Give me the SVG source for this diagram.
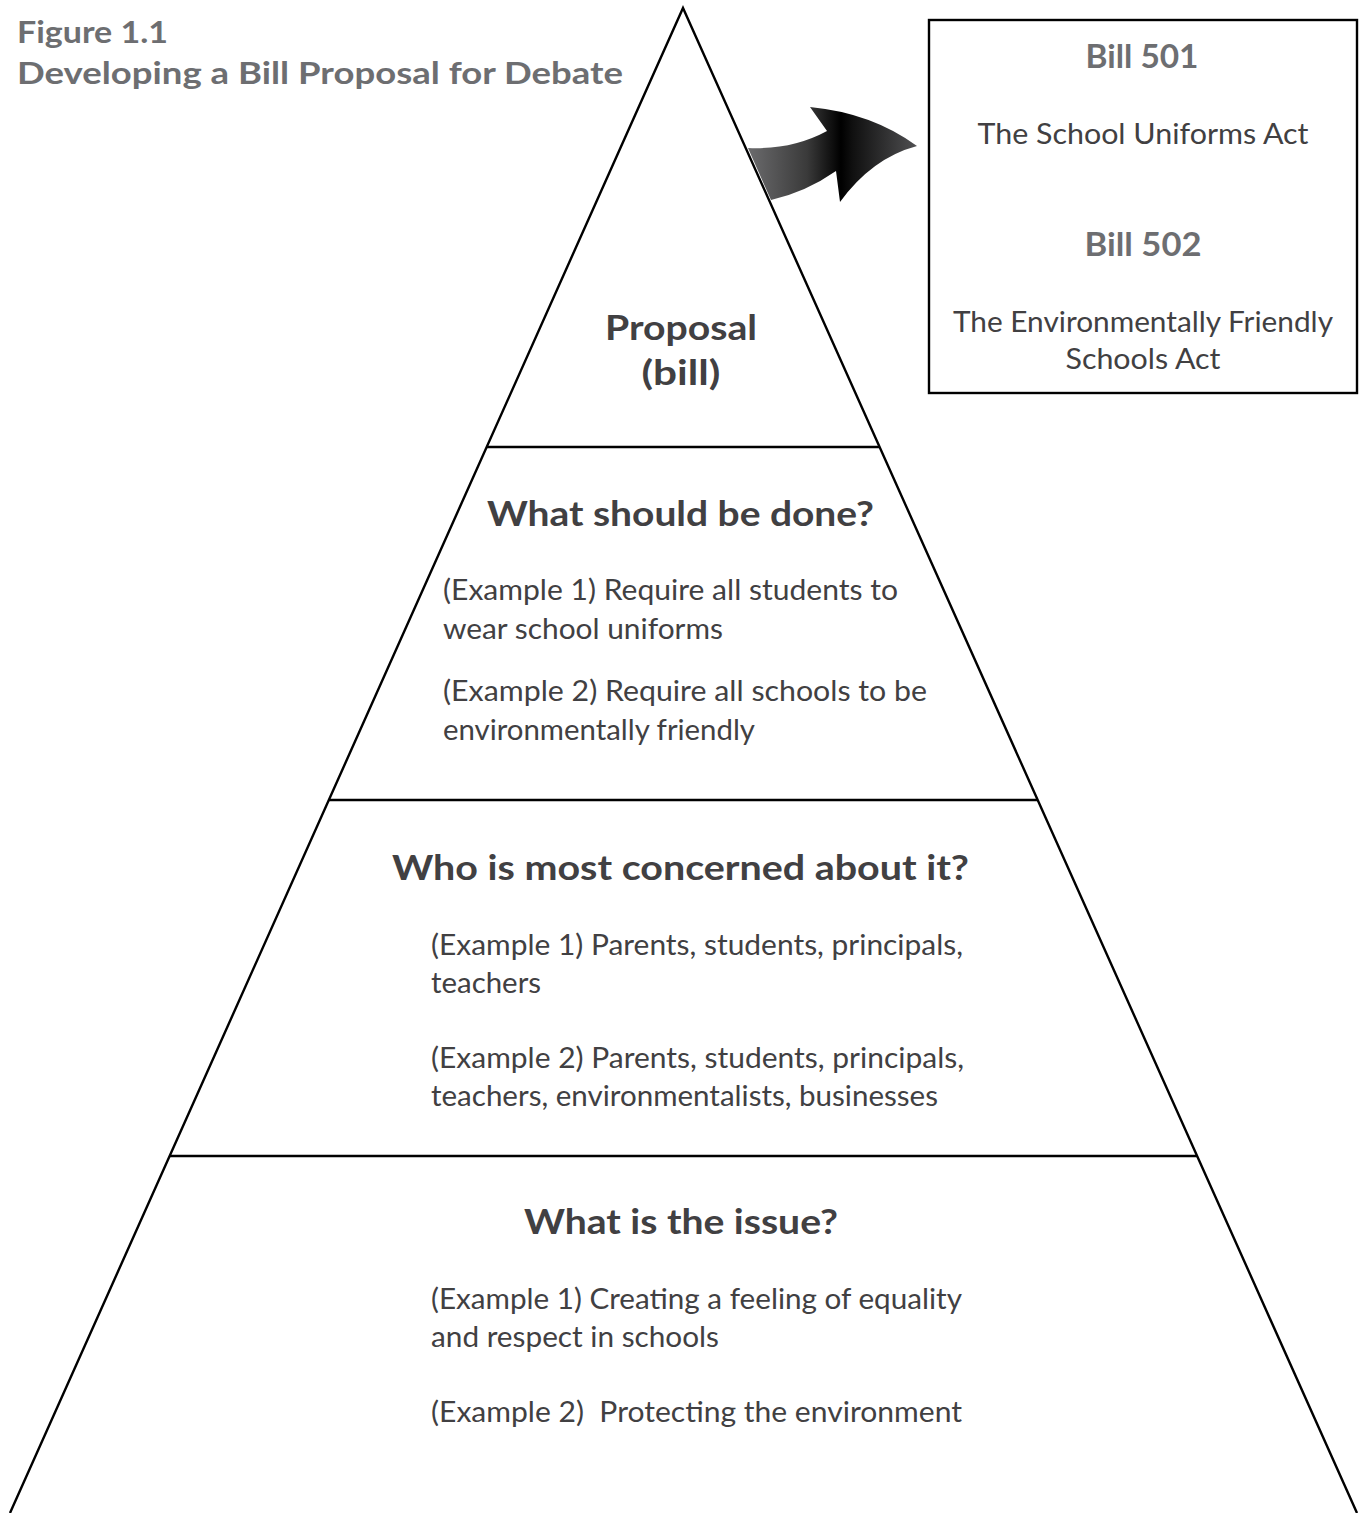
<svg xmlns="http://www.w3.org/2000/svg" width="1365" height="1513" viewBox="0 0 1365 1513">
<defs>
<linearGradient id="arrowGrad" gradientUnits="userSpaceOnUse" x1="748" y1="0" x2="917" y2="0">
<stop offset="0" stop-color="#6b6b6d"/>
<stop offset="0.35" stop-color="#3a3a3a"/>
<stop offset="0.55" stop-color="#000000"/>
<stop offset="0.62" stop-color="#101010"/>
<stop offset="1" stop-color="#505052"/>
</linearGradient>
<style>
.ln{fill:none;stroke:#000;stroke-width:2.4;stroke-linejoin:miter}
.title{font-family:Lato,"Liberation Sans",sans-serif;font-weight:bold;font-size:31px;fill:#6d6e71}
.hd{font-family:Lato,"Liberation Sans",sans-serif;font-weight:bold;font-size:35px;fill:#414042}
.bill{font-family:Lato,"Liberation Sans",sans-serif;font-weight:bold;font-size:32px;fill:#6d6e71;text-anchor:middle}
.tx{font-family:Lato,"Liberation Sans",sans-serif;font-size:28px;fill:#414042}
.txc{font-family:Lato,"Liberation Sans",sans-serif;font-size:28px;fill:#414042;text-anchor:middle}
</style>
</defs>
<rect width="1365" height="1513" fill="#fff"/>

<g id="title">
<text class="title" x="17" y="43" textLength="151" lengthAdjust="spacingAndGlyphs">Figure 1.1</text>
<text class="title" x="17" y="84" textLength="606" lengthAdjust="spacingAndGlyphs">Developing a Bill Proposal for Debate</text>
</g>

<g id="pyramid">
<path class="ln" d="M10,1513 L683,8 L1357,1513"/>
<line class="ln" x1="487" y1="447" x2="879" y2="447"/>
<line class="ln" x1="329" y1="800" x2="1038" y2="800"/>
<line class="ln" x1="170" y1="1156" x2="1197" y2="1156"/>
</g>

<g id="level-proposal">
<text class="hd" x="681" y="340" text-anchor="middle" textLength="152" lengthAdjust="spacingAndGlyphs">Proposal</text>
<text class="hd" x="681" y="385" text-anchor="middle" textLength="79" lengthAdjust="spacingAndGlyphs">(bill)</text>
</g>

<g id="level-what-done">
<text class="hd" x="487" y="526" textLength="387" lengthAdjust="spacingAndGlyphs">What should be done?</text>
<text class="tx" x="443" y="600" textLength="455" lengthAdjust="spacingAndGlyphs">(Example 1) Require all students to</text>
<text class="tx" x="443" y="639" textLength="280" lengthAdjust="spacingAndGlyphs">wear school uniforms</text>
<text class="tx" x="443" y="701" textLength="484" lengthAdjust="spacingAndGlyphs">(Example 2) Require all schools to be</text>
<text class="tx" x="443" y="740" textLength="312" lengthAdjust="spacingAndGlyphs">environmentally friendly</text>
</g>

<g id="level-who">
<text class="hd" x="392" y="880" textLength="577" lengthAdjust="spacingAndGlyphs">Who is most concerned about it?</text>
<text class="tx" x="431" y="955" textLength="532" lengthAdjust="spacingAndGlyphs">(Example 1) Parents, students, principals,</text>
<text class="tx" x="431" y="993" textLength="110" lengthAdjust="spacingAndGlyphs">teachers</text>
<text class="tx" x="431" y="1068" textLength="533" lengthAdjust="spacingAndGlyphs">(Example 2) Parents, students, principals,</text>
<text class="tx" x="431" y="1106" textLength="507" lengthAdjust="spacingAndGlyphs">teachers, environmentalists, businesses</text>
</g>

<g id="level-issue">
<text class="hd" x="524" y="1234" textLength="314" lengthAdjust="spacingAndGlyphs">What is the issue?</text>
<text class="tx" x="431" y="1309" textLength="531" lengthAdjust="spacingAndGlyphs">(Example 1) Creating a feeling of equality</text>
<text class="tx" x="431" y="1347" textLength="288" lengthAdjust="spacingAndGlyphs">and respect in schools</text>
<text class="tx" x="431" y="1422" textLength="531" lengthAdjust="spacingAndGlyphs" xml:space="preserve">(Example 2)  Protecting the environment</text>
</g>

<g id="connectors">
<path d="M748,148 Q792,150 827,131 L810,107 Q872,113 917,146 Q872,158 840,202 L836,171 Q806,192 771,200 Z" fill="url(#arrowGrad)"/>
</g>

<g id="bills-box">
<rect x="929" y="20" width="428" height="373" fill="#fff" stroke="#000" stroke-width="2.4"/>
<text class="bill" x="1142" y="68" textLength="113" lengthAdjust="spacingAndGlyphs">Bill 501</text>
<text class="txc" x="1143" y="144" textLength="331" lengthAdjust="spacingAndGlyphs">The School Uniforms Act</text>
<text class="bill" x="1143" y="256" textLength="117" lengthAdjust="spacingAndGlyphs">Bill 502</text>
<text class="txc" x="1143" y="332" textLength="380" lengthAdjust="spacingAndGlyphs">The Environmentally Friendly</text>
<text class="txc" x="1143" y="369" textLength="155" lengthAdjust="spacingAndGlyphs">Schools Act</text>
</g>
</svg>
